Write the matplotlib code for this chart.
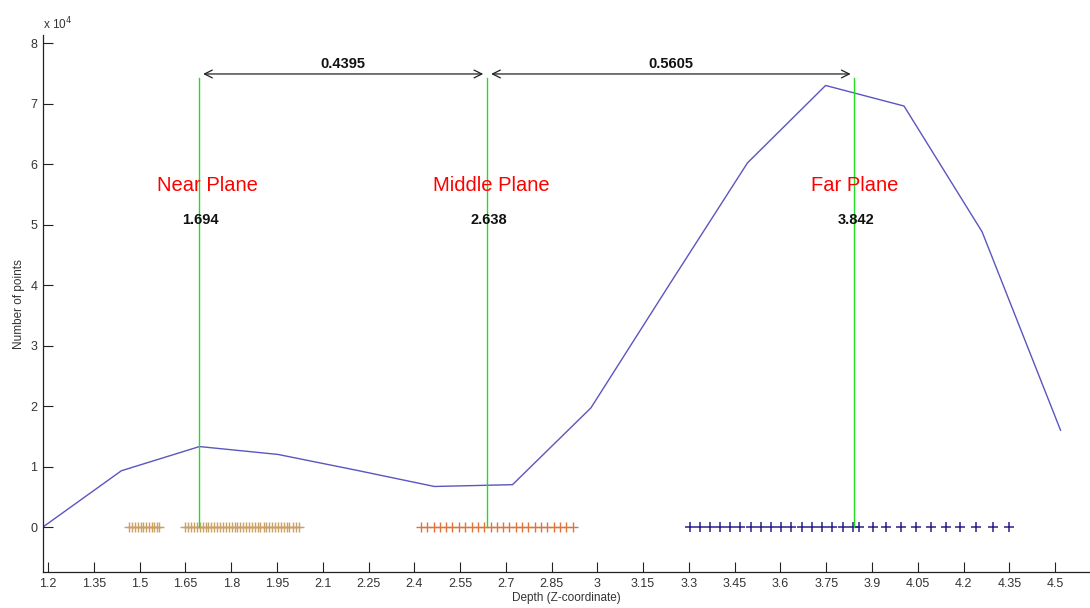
import matplotlib.pyplot as plt
import numpy as np

plt.rcParams['font.family'] = ['Liberation Sans', 'DejaVu Sans']

# depth histogram (bin centres, number of points)
depth_bins = [1.183, 1.440, 1.696, 1.953, 2.209, 2.466, 2.722,
              2.979, 3.235, 3.492, 3.748, 4.005, 4.261, 4.518]
point_counts = [0, 9300, 13300, 12000, 9400, 6700, 7000,
                19700, 40000, 60200, 73000, 69600, 48800, 16000]

# clustered depth samples drawn along y = 0
near_a = [1.466, 1.475, 1.484, 1.493, 1.503, 1.512, 1.521, 1.530,
          1.539, 1.548, 1.557, 1.564]
near_b = [1.649, 1.659, 1.668, 1.678, 1.687, 1.697, 1.706, 1.716,
          1.725, 1.735, 1.744, 1.754, 1.763, 1.773, 1.782, 1.792,
          1.801, 1.811, 1.820, 1.830, 1.839, 1.849, 1.858, 1.868,
          1.877, 1.887, 1.896, 1.906, 1.915, 1.925, 1.934, 1.944,
          1.953, 1.963, 1.972, 1.982, 1.991, 2.001, 2.011, 2.023]
middle = [2.422, 2.443, 2.463, 2.484, 2.505, 2.525, 2.546, 2.567,
          2.588, 2.608, 2.629, 2.650, 2.670, 2.691, 2.712, 2.733,
          2.753, 2.774, 2.795, 2.815, 2.836, 2.857, 2.878, 2.898, 2.919]
far = [3.302, 3.335, 3.369, 3.402, 3.436, 3.469, 3.503, 3.536,
       3.569, 3.603, 3.636, 3.670, 3.703, 3.737, 3.770, 3.804, 3.837,
       3.859, 3.903, 3.946, 3.996, 4.045, 4.094, 4.143, 4.190,
       4.240, 4.296, 4.349]

planes = [1.694, 2.638, 3.842]
plane_names = ['Near Plane', 'Middle Plane', 'Far Plane']
plane_labels = ['1.694', '2.638', '3.842']
gap_labels = ['0.4395', '0.5605']
name_shift = [0.028, 0.015, 0.0]   # label offsets from each plane line

fig = plt.figure(figsize=(10.9, 6.08), dpi=100)
ax = fig.add_axes([0.0394, 0.0592, 0.961, 0.883])

ax.plot(depth_bins, np.array(point_counts) / 1e4, color='#5b55c0', lw=1.0)

ax.plot(near_a, np.zeros(len(near_a)), '+', color='#c9a066', ms=7.5, mew=1)
ax.plot(near_b, np.zeros(len(near_b)), '+', color='#c9a066', ms=7.5, mew=1)
ax.plot(middle, np.zeros(len(middle)), '+', color='#e0733c', ms=7.5, mew=1)
ax.plot(far, np.zeros(len(far)), '+', color='#2a1f88', ms=7.5, mew=1.1)

for x, name, lab, dx in zip(planes, plane_names, plane_labels, name_shift):
    ax.plot([x, x], [0, 7.42], color='#22dd22', lw=1.0)
    ax.text(x + dx, 5.65, name, color='#ff0000', fontsize=14.5,
            ha='center', va='center')
    ax.text(x + 0.005, 5.07, lab, color='#111111', fontsize=10.5,
            fontweight='bold', ha='center', va='center')

# distance arrows between planes
arrow_y = 7.49
for (x0, x1), lab in zip([(planes[0], planes[1]), (planes[1], planes[2])], gap_labels):
    ax.annotate('', xy=(x0 + 0.014, arrow_y), xytext=(x1 - 0.012, arrow_y),
                arrowprops=dict(arrowstyle='<->', color='#222222', lw=0.9,
                                shrinkA=0, shrinkB=0, mutation_scale=14))
    ax.text((x0 + x1) / 2, arrow_y + 0.05, lab, fontsize=10.5,
            fontweight='bold', ha='center', va='bottom', color='#111111')

ax.set_xlim(1.183, 4.616)
ax.set_ylim(-0.744, 8.132)
ax.set_xticks(np.round(np.arange(1.2, 4.51, 0.15), 2))
ax.set_xticklabels(['1.2', '1.35', '1.5', '1.65', '1.8', '1.95', '2.1', '2.25',
                    '2.4', '2.55', '2.7', '2.85', '3', '3.15', '3.3', '3.45',
                    '3.6', '3.75', '3.9', '4.05', '4.2', '4.35', '4.5'])
ax.set_yticks(range(0, 9))
ax.tick_params(direction='in', length=7, width=0.8, labelsize=9,
               colors='#222222', labelcolor='#333333', pad=4)
for s in ('top', 'right'):
    ax.spines[s].set_visible(False)
for s in ('left', 'bottom'):
    ax.spines[s].set_color('#222222')
    ax.spines[s].set_linewidth(0.9)

ax.set_xlabel('Depth (Z-coordinate)', fontsize=8.5, color='#333333', labelpad=2)
ax.set_ylabel('Number of points', fontsize=8.5, color='#333333', labelpad=4)
ax.text(0.0, 1.005, 'x 10$^4$', transform=ax.transAxes, fontsize=8.5,
        color='#333333', ha='left', va='bottom')

fig.savefig('out.png', dpi=100)
